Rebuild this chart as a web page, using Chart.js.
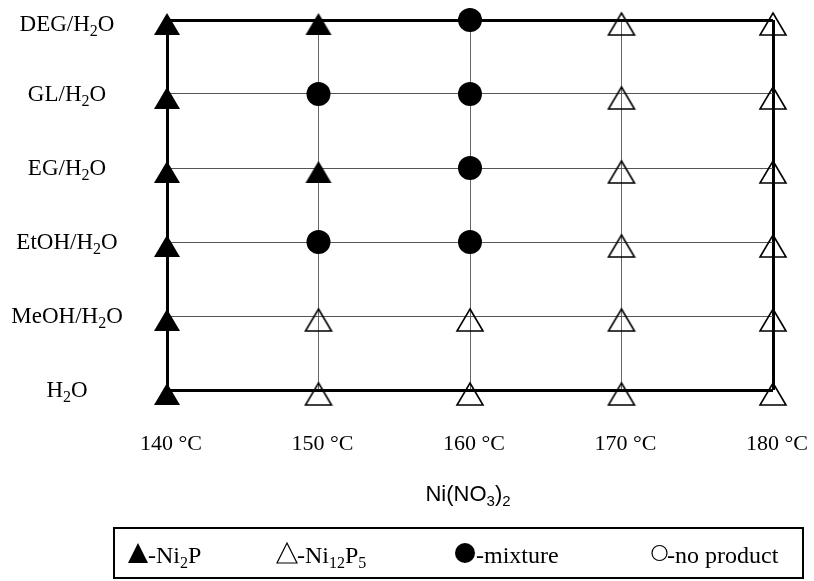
<!DOCTYPE html>
<html>
<head>
<meta charset="utf-8">
<script src="https://cdn.jsdelivr.net/npm/chart.js"></script>
<style>
  html, body { margin: 0; padding: 0; background: #fff; }
  #wrap { position: relative; width: 814px; height: 581px; }
</style>
</head>
<body>
<div id="wrap"><canvas id="c" width="814" height="581"></canvas></div>
<script>
// temperatures on x, solvents bottom to top on y
const temps = [140, 150, 160, 170, 180];
const tempLabels = ['140 °C', '150 °C', '160 °C', '170 °C', '180 °C'];
const solvents = ['H2O', 'MeOH/H2O', 'EtOH/H2O', 'EG/H2O', 'GL/H2O', 'DEG/H2O'];

// product at each temperature, one array per solvent
const rowH2O  = ['Ni2P', 'Ni12P5', 'Ni12P5', 'Ni12P5', 'Ni12P5'];
const rowMeOH = ['Ni2P', 'Ni12P5', 'Ni12P5', 'Ni12P5', 'Ni12P5'];
const rowEtOH = ['Ni2P', 'mixture', 'mixture', 'Ni12P5', 'Ni12P5'];
const rowEG   = ['Ni2P', 'Ni2P', 'mixture', 'Ni12P5', 'Ni12P5'];
const rowGL   = ['Ni2P', 'mixture', 'mixture', 'Ni12P5', 'Ni12P5'];
const rowDEG  = ['Ni2P', 'Ni2P', 'mixture', 'Ni12P5', 'Ni12P5'];
const rows = [rowH2O, rowMeOH, rowEtOH, rowEG, rowGL, rowDEG];

const xTitle = 'Ni(NO3)2';
const legendLabels = ['-Ni2P', '-Ni12P5', '-mixture', '-no product'];

// collect points of one product
function pointsOf(kind) {
  const pts = [];
  rows.forEach((row, yi) => {
    row.forEach((k, xi) => {
      if (k === kind) pts.push({ x: temps[xi], y: yi });
    });
  });
  return pts;
}

// triangle marker, apex a bit above the grid crossing like in the figure
function triangleImg(filled) {
  const c = document.createElement('canvas');
  c.width = 30; c.height = 34;
  const g = c.getContext('2d');
  g.beginPath();
  g.moveTo(15, 10);
  g.lineTo(28, 32);
  g.lineTo(2, 32);
  g.closePath();
  if (filled) {
    g.fillStyle = '#000';
    g.fill();
  } else {
    g.strokeStyle = '#000';
    g.lineWidth = 1.6;
    g.stroke();
  }
  return c;
}

// text with subscripts: digits after a letter or ')' are lowered
function parts(str) {
  const out = [];
  const re = /([A-Za-z)])(\d+)/g;
  let last = 0, m;
  while ((m = re.exec(str)) !== null) {
    out.push([str.slice(last, m.index + 1), false]);
    out.push([m[2], true]);
    last = m.index + m[0].length;
  }
  out.push([str.slice(last), false]);
  return out.filter(p => p[0].length);
}

function drawRich(ctx, str, x, y, size, family, align) {
  const ps = parts(str);
  const subSize = Math.round(size * 0.68);
  let w = 0;
  ps.forEach(p => {
    ctx.font = (p[1] ? subSize : size) + 'px ' + family;
    w += ctx.measureText(p[0]).width;
  });
  let cx = x;
  if (align === 'center') cx = x - w / 2;
  else if (align === 'right') cx = x - w;
  ctx.textAlign = 'left';
  ctx.textBaseline = 'alphabetic';
  ps.forEach(p => {
    ctx.font = (p[1] ? subSize : size) + 'px ' + family;
    ctx.fillText(p[0], cx, p[1] ? y + size * 0.22 : y);
    cx += ctx.measureText(p[0]).width;
  });
}

const serif = '"Liberation Serif", "Times New Roman", serif';
const sans = '"Liberation Sans", Arial, sans-serif';

const labelsPlugin = {
  id: 'labels',
  afterDraw(chart) {
    const ctx = chart.ctx;
    const xs = chart.scales.x, ys = chart.scales.y;
    ctx.save();
    ctx.fillStyle = '#000';
    solvents.forEach((s, i) => {
      const dy = i === solvents.length - 1 ? 11 : 7;
      drawRich(ctx, s, 67, ys.getPixelForValue(i) + dy, 23, serif, 'center');
    });
    tempLabels.forEach((t, i) => {
      drawRich(ctx, t, xs.getPixelForValue(temps[i]) + 4, 450, 22, serif, 'center');
    });
    drawRich(ctx, xTitle, 468, 501, 22, sans, 'center');

    // legend box
    ctx.strokeStyle = '#000';
    ctx.lineWidth = 2;
    ctx.strokeRect(114, 528, 689, 50);
    const my = 553;
    // filled triangle
    ctx.beginPath();
    ctx.moveTo(138, 543); ctx.lineTo(148, 563); ctx.lineTo(128, 563); ctx.closePath();
    ctx.fill();
    drawRich(ctx, legendLabels[0], 148, 563, 24, serif, 'left');
    // open triangle
    ctx.lineWidth = 1.2;
    ctx.beginPath();
    ctx.moveTo(287, 543); ctx.lineTo(297, 563); ctx.lineTo(277, 563); ctx.closePath();
    ctx.stroke();
    drawRich(ctx, legendLabels[1], 297, 563, 24, serif, 'left');
    // filled circle
    ctx.beginPath();
    ctx.arc(465, my, 10, 0, Math.PI * 2);
    ctx.fill();
    drawRich(ctx, legendLabels[2], 476, 563, 24, serif, 'left');
    // open circle
    ctx.beginPath();
    ctx.arc(659.5, my, 7.5, 0, Math.PI * 2);
    ctx.stroke();
    drawRich(ctx, legendLabels[3], 667, 563, 24, serif, 'left');
    ctx.restore();
  }
};

const edgeX = v => v === temps[0] || v === temps[temps.length - 1];
const edgeY = v => v === 0 || v === solvents.length - 1;

new Chart(document.getElementById('c'), {
  type: 'scatter',
  data: {
    datasets: [
      { label: 'Ni2P', data: pointsOf('Ni2P'), pointStyle: triangleImg(true), clip: false },
      { label: 'Ni12P5', data: pointsOf('Ni12P5'), pointStyle: triangleImg(false), clip: false },
      { label: 'mixture', data: pointsOf('mixture'), pointStyle: 'circle', pointRadius: 12,
        backgroundColor: '#000', borderWidth: 0, clip: false },
      { label: 'no product', data: pointsOf('none'), pointStyle: 'circle', pointRadius: 8,
        backgroundColor: '#fff', borderColor: '#000', clip: false }
    ]
  },
  options: {
    responsive: false,
    animation: false,
    events: [],
    layout: { padding: { left: 167, right: 41, top: 20, bottom: 191 } },
    plugins: { legend: { display: false }, tooltip: { enabled: false } },
    scales: {
      x: {
        type: 'linear', min: 140, max: 180,
        ticks: { stepSize: 10, display: false },
        border: { display: false },
        grid: {
          drawTicks: false,
          color: c => edgeX(c.tick.value) ? '#000' : '#666',
          lineWidth: c => edgeX(c.tick.value) ? 3 : 1
        },
        afterFit: s => { s.height = 0; }
      },
      y: {
        type: 'linear', min: 0, max: 5,
        ticks: { stepSize: 1, display: false },
        border: { display: false },
        grid: {
          drawTicks: false,
          color: c => edgeY(c.tick.value) ? '#000' : '#555',
          lineWidth: c => edgeY(c.tick.value) ? 3 : 1
        },
        afterFit: s => { s.width = 0; }
      }
    }
  },
  plugins: [labelsPlugin]
});
</script>
</body>
</html>
